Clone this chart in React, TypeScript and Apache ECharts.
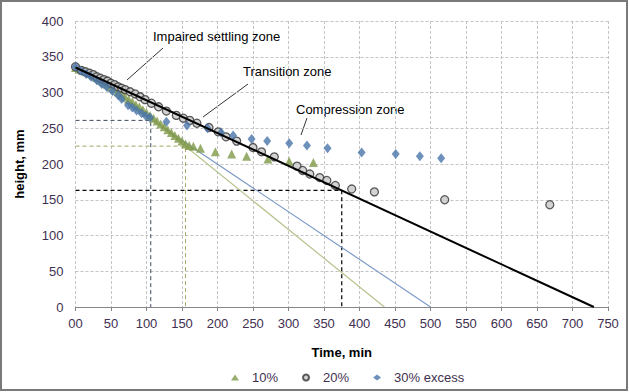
import React, { useEffect, useRef } from "react";
import * as echarts from "echarts";

// 10% series (triangles)
const tenTime = [0, 5, 10, 15, 20, 25, 30, 35, 40, 45, 50, 55, 60, 65, 70, 75, 80, 85, 90, 95, 100, 105, 110, 115, 120, 125, 130, 135, 140, 145, 150, 155, 160, 166, 176, 197, 220, 241, 271, 301, 335];
const tenHeight = [335, 333, 331, 329, 327, 324, 321, 318, 315, 312, 308, 305, 301, 298, 294, 290, 287, 283, 280, 276, 272, 268, 264, 260, 256, 252, 248, 244, 240, 236, 232, 228, 226, 225, 222, 217, 214, 211, 207, 204, 202];

// 20% series (circles)
const twentyTime = [0, 8, 14, 20, 25, 30, 35, 40, 45, 50, 55, 60, 65, 70, 77, 84, 91, 98, 107, 117, 128, 142, 152, 161, 171, 188, 201, 212, 227, 250, 262, 280, 312, 320, 330, 344, 354, 366, 389, 421, 520, 668];
const twentyHeight = [336, 331, 329, 327, 325, 322, 320, 318, 316, 313, 311, 308, 306, 304, 301, 298, 294, 290, 285, 280, 274, 268, 264, 261, 257, 251, 245, 238, 232, 223, 217, 210, 197, 191, 186, 181, 177, 170, 165, 161, 150, 143];

// 30% excess series (diamonds)
const thirtyTime = [0, 8, 15, 22, 30, 37, 44, 52, 60, 65, 74, 80, 86, 93, 99, 105, 128, 157, 186, 205, 222, 248, 270, 301, 326, 355, 403, 451, 485, 515];
const thirtyHeight = [336, 330, 326, 322, 317, 312, 308, 302, 296, 291, 282, 279, 275, 271, 267, 265, 259, 254, 250, 244, 240, 235, 232, 229, 226, 222, 216, 214, 211, 208];

// fitted lines
const blackFitTime = [0, 730];
const blackFitHeight = [335, 0];
const blueFitTime = [0, 500];
const blueFitHeight = [333, 0];
const greenFitTime = [90, 435];
const greenFitHeight = [277, 0];

// dashed guide lines
const blueGuideTime = [0, 106, 106];
const blueGuideHeight = [261, 261, 0];
const greenGuideTime = [0, 155, 155];
const greenGuideHeight = [225, 225, 0];
const blackGuideTime = [0, 375, 375];
const blackGuideHeight = [163, 163, 0];

const zip = (a: number[], b: number[]) => a.map((v, i) => [v, b[i]]);

const FONT = "Liberation Sans, Arial, sans-serif";
const LABEL_COLOR = "#3f3050";

export default function App() {
  const ref = useRef<HTMLDivElement>(null);
  useEffect(() => {
    document.body.style.margin = "0";
    const chart = echarts.init(ref.current!, null, { renderer: "svg" });
    const lineSeries = (name: string, t: number[], h: number[], color: string, width: number, dashed: boolean) => ({
      name,
      type: "line",
      data: zip(t, h),
      symbol: "none",
      silent: true,
      lineStyle: { color, width, type: dashed ? [4, 3] : "solid" },
      z: 1,
    });
    chart.setOption({
      animation: false,
      backgroundColor: "#ffffff",
      grid: { left: 75.5, right: 21, top: 21, bottom: 85 },
      xAxis: {
        type: "value",
        min: 0,
        max: 750,
        interval: 50,
        name: "Time, min",
        nameLocation: "middle",
        nameGap: 39,
        nameTextStyle: { fontFamily: FONT, fontSize: 13, fontWeight: "bold", color: "#000" },
        axisLine: { show: true, lineStyle: { color: "#868686", width: 1 } },
        axisTick: { show: true, length: 4, lineStyle: { color: "#868686" } },
        axisLabel: {
          fontFamily: FONT,
          fontSize: 13,
          color: LABEL_COLOR,
          margin: 10,
          formatter: (v: number) => (v === 0 ? "00" : String(v)),
        },
        splitLine: { show: true, lineStyle: { color: "#c4c4c4", type: [3, 2], width: 1 } },
      },
      yAxis: {
        type: "value",
        min: 0,
        max: 400,
        interval: 50,
        name: "height, mm",
        nameLocation: "middle",
        nameGap: 50,
        nameTextStyle: { fontFamily: FONT, fontSize: 13, fontWeight: "bold", color: "#000" },
        axisLine: { show: false },
        axisTick: { show: false },
        axisLabel: { fontFamily: FONT, fontSize: 13, color: LABEL_COLOR, margin: 12 },
        splitLine: { show: true, lineStyle: { color: "#c4c4c4", type: [3, 2], width: 1 } },
      },
      legend: {
        data: ["10%", "20%", "30% excess"],
        left: 226,
        top: 366,
        itemWidth: 8,
        itemHeight: 6,
        itemGap: 24,
        textStyle: { fontFamily: FONT, fontSize: 13, color: LABEL_COLOR, padding: [0, 0, 0, 8] },
      },
      series: [
        lineSeries("blueGuide", blueGuideTime, blueGuideHeight, "#3e4a5c", 1, true),
        lineSeries("greenGuide", greenGuideTime, greenGuideHeight, "#a0a860", 1, true),
        lineSeries("blackGuide", blackGuideTime, blackGuideHeight, "#000000", 1.2, true),
        lineSeries("blueFit", blueFitTime, blueFitHeight, "#7d9bc6", 1.2, false),
        lineSeries("greenFit", greenFitTime, greenFitHeight, "#b5c38d", 1.2, false),
        {
          name: "10%",
          type: "scatter",
          data: zip(tenTime, tenHeight),
          symbol: "triangle",
          symbolSize: 9,
          itemStyle: { color: "#7f9a48" },
          z: 3,
        },
        {
          name: "20%",
          type: "scatter",
          data: zip(twentyTime, twentyHeight),
          symbol: "circle",
          symbolSize: 8,
          itemStyle: { color: "#c8c8c8", borderColor: "#333333", borderWidth: 1.3 },
          z: 4,
        },
        {
          name: "30% excess",
          type: "scatter",
          data: zip(thirtyTime, thirtyHeight),
          symbol: "diamond",
          symbolSize: [8, 10],
          itemStyle: { color: "#4a76ab" },
          z: 5,
        },
        { ...lineSeries("blackFit", blackFitTime, blackFitHeight, "#000000", 2, false), z: 6 },
      ],
      graphic: [
        {
          type: "rect",
          shape: { x: 1, y: 1, width: 626, height: 389 },
          style: { fill: "none", stroke: "#7a7a7a", lineWidth: 2 },
          silent: true,
        },
        { type: "text", x: 153, y: 36, style: { text: "Impaired settling zone", font: `13px ${FONT}`, fill: "#000", verticalAlign: "middle" } },
        { type: "line", shape: { x1: 163, y1: 48, x2: 127, y2: 80 }, style: { stroke: "#333", lineWidth: 1 } },
        { type: "text", x: 243, y: 71, style: { text: "Transition zone", font: `13px ${FONT}`, fill: "#000", verticalAlign: "middle" } },
        { type: "line", shape: { x1: 248, y1: 84, x2: 203, y2: 117 }, style: { stroke: "#333", lineWidth: 1 } },
        { type: "text", x: 296, y: 109, style: { text: "Compression zone", font: `13px ${FONT}`, fill: "#000", verticalAlign: "middle" } },
        { type: "line", shape: { x1: 307, y1: 118, x2: 301, y2: 135 }, style: { stroke: "#333", lineWidth: 1 } },
      ],
    });
    return () => chart.dispose();
  }, []);
  return <div ref={ref} style={{ position: "absolute", left: 0, top: 0, width: 629, height: 392 }} />;
}
